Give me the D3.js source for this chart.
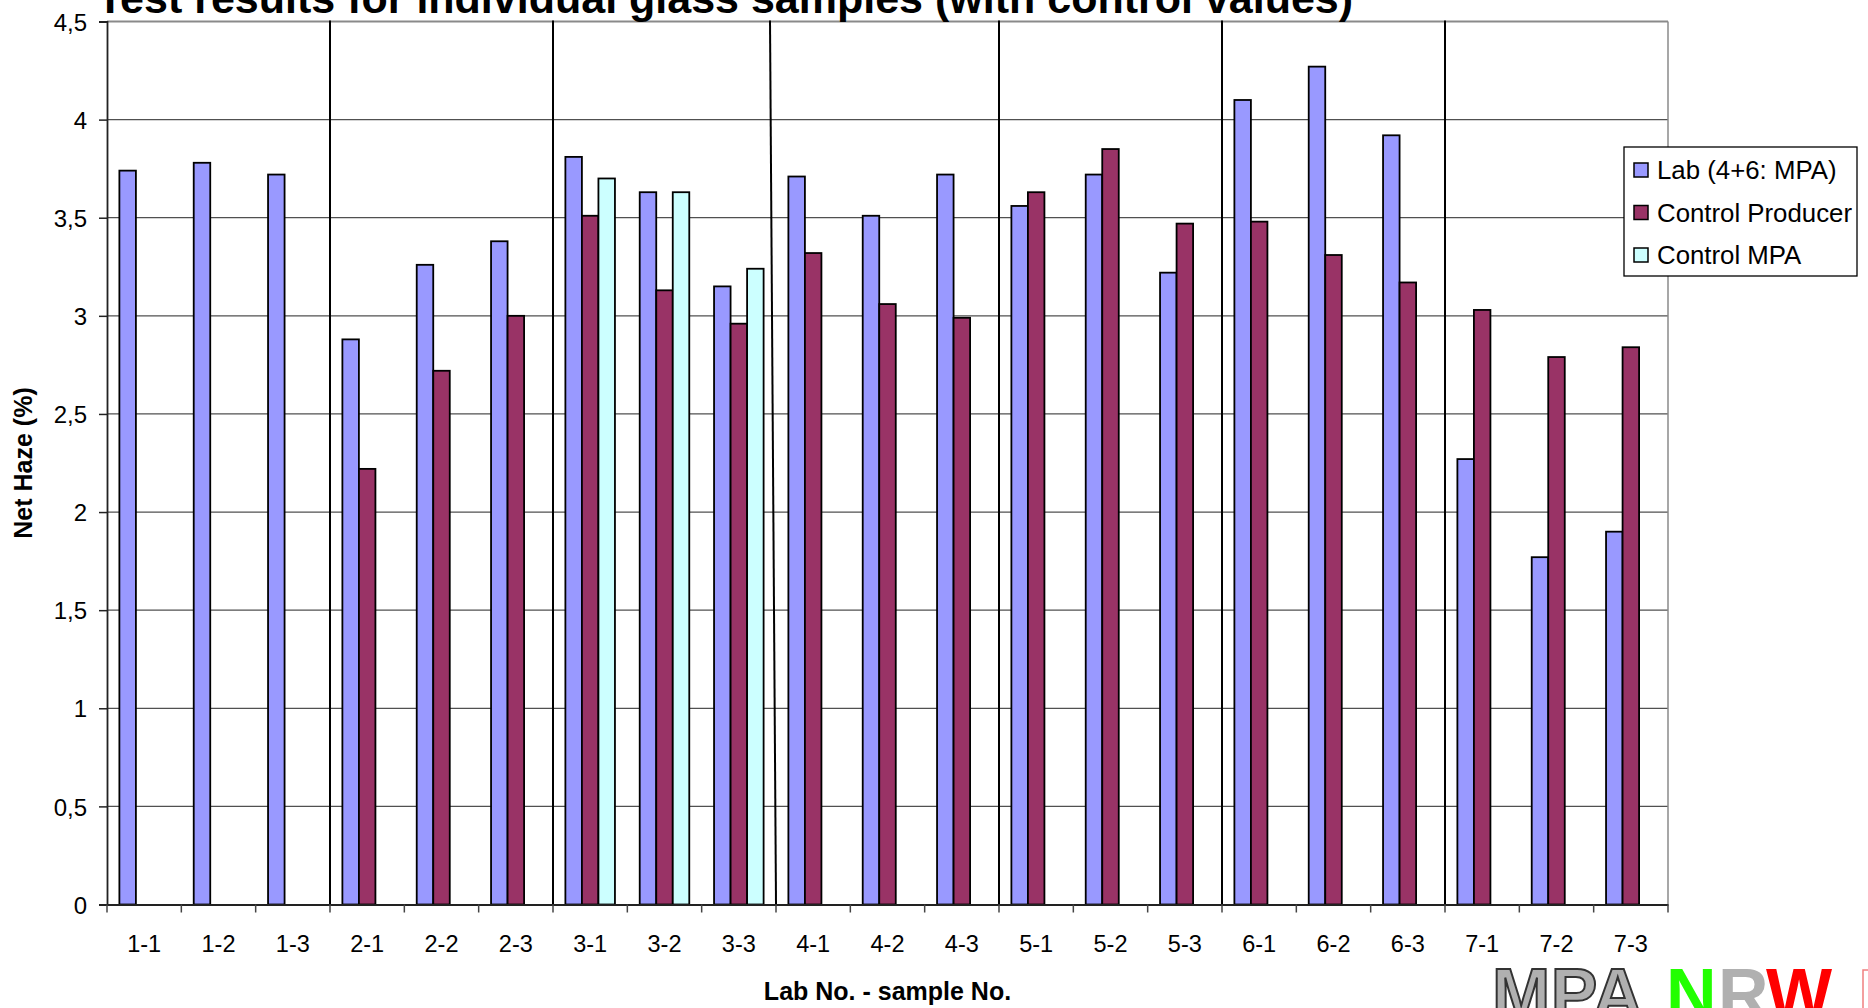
<!DOCTYPE html>
<html>
<head>
<meta charset="utf-8">
<script src="https://cdn.jsdelivr.net/npm/d3@7"></script>
<style>
  html, body { margin: 0; padding: 0; background: #fff; }
  svg { display: block; font-family: "Liberation Sans", Arial, sans-serif; }
</style>
</head>
<body>
<svg id="chart" width="1868" height="1008"></svg>
<script>
// ---------- data ----------
const categories = ["1-1","1-2","1-3","2-1","2-2","2-3","3-1","3-2","3-3",
                    "4-1","4-2","4-3","5-1","5-2","5-3","6-1","6-2","6-3","7-1","7-2","7-3"];
const seriesNames = ["Lab (4+6: MPA)", "Control Producer", "Control MPA"];
const labValues = [3.74,3.78,3.72, 2.88,3.26,3.38, 3.81,3.63,3.15, 3.71,3.51,3.72,
                   3.56,3.72,3.22, 4.10,4.27,3.92, 2.27,1.77,1.90];
const producerValues = [null,null,null, 2.22,2.72,3.00, 3.51,3.13,2.96, 3.32,3.06,2.99,
                        3.63,3.85,3.47, 3.48,3.31,3.17, 3.03,2.79,2.84];
const mpaValues = [null,null,null, null,null,null, 3.70,3.63,3.24, null,null,null,
                   null,null,null, null,null,null, null,null,null];
const yTickValues = [0,0.5,1,1.5,2,2.5,3,3.5,4,4.5];
const yTickLabels = ["0","0,5","1","1,5","2","2,5","3","3,5","4","4,5"];
const labSeparators = ["2-1","3-1","4-1","5-1","6-1","7-1"];
const titleText = "Test results for individual glass samples (with control values)";
const xTitle = "Lab No. - sample No.";
const yTitle = "Net Haze (%)";
const colors = ["#9999FF", "#993366", "#CCFFFF"];

// ---------- layout ----------
const svg = d3.select("#chart");
const L = 107, R = 1668, T = 21.5, B = 904.5;

const x = d3.scaleBand().domain(categories).range([L, R]).paddingInner(0).paddingOuter(0);
const y = d3.scaleLinear().domain([0, 4.5]).range([B, T]);
const slotW = x.bandwidth() / 4.5;
const sub = d3.scaleBand().domain([0,1,2]).range([0.75 * slotW, 3.75 * slotW]).padding(0);

// gridlines
svg.append("g").selectAll("line").data(yTickValues.filter(v => v > 0)).join("line")
  .attr("x1", L).attr("x2", R)
  .attr("y1", d => y(d)).attr("y2", d => y(d))
  .attr("stroke", d => d === 4.5 ? "#8a8a8a" : "#505050")
  .attr("stroke-width", d => d === 4.5 ? 2 : 1.3);

// right border
svg.append("line").attr("x1", R).attr("x2", R).attr("y1", T).attr("y2", B)
  .attr("stroke", "#8a8a8a").attr("stroke-width", 1.5);

// lab separators (hand-drawn in the original; the one before lab 4 leans slightly)
svg.append("g").selectAll("line").data(labSeparators).join("line")
  .attr("x1", d => x(d) - (d === "4-1" ? 6 : 0)).attr("x2", d => x(d))
  .attr("y1", T - 1).attr("y2", B)
  .attr("stroke", "#000").attr("stroke-width", 2);

// bars
const series = [labValues, producerValues, mpaValues];
series.forEach((vals, si) => {
  svg.append("g").selectAll("rect")
    .data(categories.map((c, i) => ({ c, v: vals[i] })).filter(d => d.v != null))
    .join("rect")
    .attr("x", d => x(d.c) + sub(si))
    .attr("y", d => y(d.v))
    .attr("width", sub.bandwidth())
    .attr("height", d => y(0) - y(d.v))
    .attr("fill", colors[si])
    .attr("stroke", "#000")
    .attr("stroke-width", 1.8);
});

// y axis
const yAxis = d3.axisLeft(y).tickValues(yTickValues)
  .tickFormat((d, i) => yTickLabels[i]).tickSize(8).tickPadding(12);
const gy = svg.append("g").attr("transform", `translate(${L},0)`).call(yAxis);
gy.select(".domain").attr("stroke", "#222").attr("stroke-width", 1.8);
gy.selectAll(".tick line").attr("stroke", "#222").attr("stroke-width", 1.5);
gy.selectAll(".tick text").attr("font-size", 24).attr("font-family", "Liberation Sans, Arial, sans-serif")
  .attr("fill", "#000").attr("dy", "0.36em");

// x axis
const xAxis = d3.axisBottom(x).tickSize(0).tickPadding(0);
const gx = svg.append("g").attr("transform", `translate(0,${B})`).call(xAxis);
gx.select(".domain").attr("stroke", "#222").attr("stroke-width", 1.8);
gx.selectAll(".tick text").attr("font-size", 23.5).attr("font-family", "Liberation Sans, Arial, sans-serif")
  .attr("fill", "#000").attr("dy", 0).attr("y", 47);
// boundary tick marks
svg.append("g").selectAll("line")
  .data(categories.map(c => x(c)).concat([x(categories[categories.length - 1]) + x.bandwidth()]))
  .join("line")
  .attr("x1", d => d).attr("x2", d => d).attr("y1", B).attr("y2", B + 8)
  .attr("stroke", "#444").attr("stroke-width", 1.5);

// title
svg.append("text").attr("x", 97).attr("y", 12.5)
  .attr("font-size", 43).attr("font-weight", "bold").attr("fill", "#000")
  .text(titleText);

// axis titles
svg.append("text").attr("x", (L + R) / 2).attr("y", 1000)
  .attr("text-anchor", "middle").attr("font-size", 25).attr("font-weight", "bold")
  .text(xTitle);
svg.append("text").attr("transform", `translate(32,${(T + B) / 2}) rotate(-90)`)
  .attr("text-anchor", "middle").attr("font-size", 25).attr("font-weight", "bold")
  .text(yTitle);

// legend
const lg = svg.append("g");
lg.append("rect").attr("x", 1624).attr("y", 147).attr("width", 233).attr("height", 129)
  .attr("fill", "#fff").attr("stroke", "#000").attr("stroke-width", 1.3);
seriesNames.forEach((n, i) => {
  const cy = 170 + i * 42.5;
  lg.append("rect").attr("x", 1634).attr("y", cy - 7).attr("width", 14).attr("height", 14)
    .attr("fill", colors[i]).attr("stroke", "#000").attr("stroke-width", 1.5);
  lg.append("text").attr("x", 1657).attr("y", cy + 9).attr("font-size", 25.8).attr("fill", "#000").text(n);
});

// logo
const logo = svg.append("g").attr("font-family", "Liberation Sans, Arial, sans-serif")
  .attr("font-weight", "bold").attr("font-size", 70);
logo.append("text").attr("x", 1492).attr("y", 1018).attr("fill", "#b0b0b0")
  .attr("stroke", "#333").attr("stroke-width", 2).attr("textLength", 151).text("MPA");
logo.append("text").attr("x", 1666).attr("y", 1018).attr("fill", "#22ff00").text("N");
logo.append("text").attr("x", 1718).attr("y", 1018).attr("fill", "#b0b0b0").text("R");
logo.append("text").attr("x", 1766).attr("y", 1018).attr("fill", "#ff0000").attr("textLength", 73).text("W");
logo.append("rect").attr("x", 1863).attr("y", 970).attr("width", 30).attr("height", 60)
  .attr("fill", "none").attr("stroke", "#f08080").attr("stroke-width", 1.5);
</script>
</body>
</html>
